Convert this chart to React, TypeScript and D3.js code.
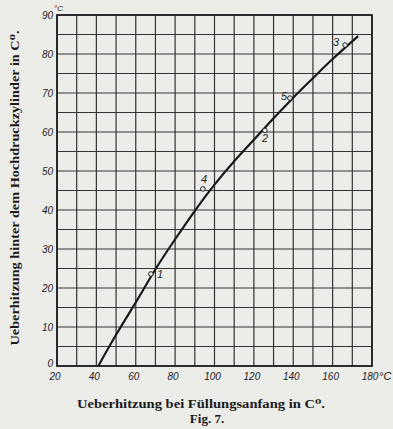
import React from "react";
import * as d3 from "d3";

// curve: superheat at admission start (x) vs superheat behind HP cylinder (y)
const curveX = [41, 50, 60, 70, 80, 90, 100, 110, 120, 130, 140, 150, 160, 173];
const curveY = [0, 8, 16.3, 24.8, 32.5, 39.8, 46.5, 52.5, 58, 63.5, 68.8, 73.8, 78.7, 84.6];

// measured points with their numbers
const pointLabels = ["1", "4", "2", "5", "3"];
const pointX = [67.7, 94.1, 125.6, 138.3, 166.3];
const pointY = [23.6, 45.4, 60.4, 68.7, 82.3];

const xTicks = [20, 40, 60, 80, 100, 120, 140, 160, 180];
const yTicks = [0, 10, 20, 30, 40, 50, 60, 70, 80, 90];

const W = 393;
const H = 429;
const left = 57;
const right = 372;
const top = 15;
const bottom = 366;

export default function App() {
  const x = d3.scaleLinear().domain([20, 180]).range([left, right]);
  const y = d3.scaleLinear().domain([0, 90]).range([bottom, top]);

  const line = d3
    .line<number>()
    .x((d, i) => x(curveX[i]))
    .y((d, i) => y(curveY[i]))
    .curve(d3.curveNatural);

  const vGrid = d3.range(20, 181, 10);
  const hGrid = d3.range(0, 91, 5);

  // label offsets (dx, dy) relative to the point
  const labelPos: Record<string, [number, number]> = {
    "1": [6, 4],
    "4": [-2, -6],
    "2": [-3, 12],
    "5": [-9, 2],
    "3": [-12, 1],
  };

  const tickFont = "Liberation Sans, Arial, sans-serif";
  const titleFont = "Liberation Serif, DejaVu Serif, serif";

  return (
    <svg
      width={W}
      height={H}
      style={{ position: "absolute", left: 0, top: 0, background: "#ecece8" }}
    >
      <rect x={0} y={0} width={W} height={H} fill="#ecece8" />

      {vGrid.map((v) => (
        <line
          key={"v" + v}
          x1={x(v)}
          x2={x(v)}
          y1={top}
          y2={bottom}
          stroke="#333"
          strokeWidth={1.2}
        />
      ))}
      {hGrid.map((v) => (
        <line
          key={"h" + v}
          x1={left}
          x2={right}
          y1={y(v)}
          y2={y(v)}
          stroke="#333"
          strokeWidth={1.2}
        />
      ))}
      <rect
        x={left}
        y={top}
        width={right - left}
        height={bottom - top}
        fill="none"
        stroke="#222"
        strokeWidth={1.8}
      />

      <path
        d={line(curveX) || ""}
        fill="none"
        stroke="#1a1a1a"
        strokeWidth={2.2}
      />

      {pointX.map((px, i) => (
        <g key={"p" + i}>
          <circle
            cx={x(px)}
            cy={y(pointY[i])}
            r={2.3}
            fill="#ecece8"
            stroke="#222"
            strokeWidth={1}
          />
          <text
            x={x(px) + labelPos[pointLabels[i]][0]}
            y={y(pointY[i]) + labelPos[pointLabels[i]][1]}
            fontFamily={tickFont}
            fontStyle="italic"
            fontSize={11}
            fill="#222"
          >
            {pointLabels[i]}
          </text>
        </g>
      ))}

      {yTicks.map((t) => (
        <text
          key={"yt" + t}
          x={left - 4}
          y={t === 0 ? y(t) + 1 : y(t) + 4}
          textAnchor="end"
          fontFamily={tickFont}
          fontStyle="italic"
          fontSize={10}
          fill="#222"
        >
          {t}
        </text>
      ))}
      <text
        x={left - 3}
        y={top - 4}
        fontFamily={tickFont}
        fontStyle="italic"
        fontSize={8}
        fill="#222"
      >
        °C
      </text>

      {xTicks.map((t) => (
        <text
          key={"xt" + t}
          x={x(t) - 2}
          y={bottom + 14}
          textAnchor="middle"
          fontFamily={tickFont}
          fontStyle="italic"
          fontSize={10}
          fill="#222"
        >
          {t}
        </text>
      ))}
      <text
        x={right + 7}
        y={bottom + 14}
        fontFamily={tickFont}
        fontStyle="italic"
        fontSize={11}
        fill="#222"
      >
        °C
      </text>

      <text
        x={201}
        y={408}
        textAnchor="middle"
        fontFamily={titleFont}
        fontWeight="bold"
        fontSize={13}
        textLength={248}
        lengthAdjust="spacingAndGlyphs"
        fill="#1a1a1a"
      >
        Ueberhitzung bei Füllungsanfang in C⁰.
      </text>
      <text
        x={207}
        y={423}
        textAnchor="middle"
        fontFamily={titleFont}
        fontWeight="bold"
        fontSize={13}
        fill="#1a1a1a"
      >
        Fig. 7.
      </text>

      <text
        transform={`translate(19,${188}) rotate(-90)`}
        textAnchor="middle"
        fontFamily={titleFont}
        fontWeight="bold"
        fontSize={13}
        textLength={315}
        lengthAdjust="spacingAndGlyphs"
        fill="#1a1a1a"
      >
        Ueberhitzung hinter dem Hochdruckzylinder in C⁰.
      </text>
    </svg>
  );
}
